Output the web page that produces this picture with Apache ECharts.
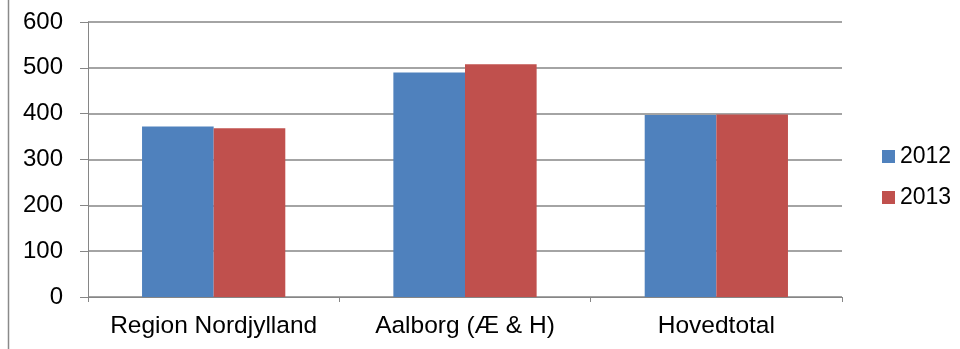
<!DOCTYPE html>
<html>
<head>
<meta charset="utf-8">
<script src="https://cdn.jsdelivr.net/npm/echarts@6/dist/echarts.min.js"></script>
<style>
  html, body { margin: 0; padding: 0; background: #fff; }
  #chart { width: 960px; height: 349px; }
</style>
</head>
<body>
<div id="chart"></div>
<script>
// Categories and yearly values
const categories = ['Region Nordjylland', 'Aalborg (Æ & H)', 'Hovedtotal'];
const values2012 = [372, 490, 397];
const values2013 = [368, 508, 398];
const yTicks = { min: 0, max: 600, interval: 100 };

const FONT = '"Liberation Sans", Arial, sans-serif';
const GRID_COLOR = '#868686';

const chart = echarts.init(document.getElementById('chart'), null, { renderer: 'canvas' });

chart.setOption({
  animation: false,
  backgroundColor: '#ffffff',
  textStyle: { fontFamily: FONT },
  grid: { left: 88, right: 118, top: 22, bottom: 52, containLabel: false },
  legend: {
    orient: 'vertical',
    left: 882,
    top: 145,
    padding: 0,
    itemWidth: 13,
    itemHeight: 13,
    itemGap: 18,
    icon: 'rect',
    textStyle: { fontSize: 23, color: '#000', fontFamily: FONT },
    data: ['2012', '2013']
  },
  xAxis: {
    type: 'category',
    data: categories,
    boundaryGap: true,
    axisLine: { show: true, lineStyle: { color: GRID_COLOR, width: 1 } },
    axisTick: { show: true, length: 5, lineStyle: { color: GRID_COLOR } },
    axisLabel: { fontSize: 24.5, color: '#000', margin: 17, fontFamily: FONT, interval: 0, hideOverlap: false },
    splitLine: { show: false }
  },
  yAxis: {
    type: 'value',
    min: yTicks.min,
    max: yTicks.max,
    interval: yTicks.interval,
    axisLine: { show: true, lineStyle: { color: GRID_COLOR, width: 1 } },
    axisTick: { show: true, inside: false, length: 8, lineStyle: { color: GRID_COLOR } },
    axisLabel: { fontSize: 24, color: '#000', margin: 25, fontFamily: FONT },
    splitLine: { show: true, lineStyle: { color: GRID_COLOR, width: 1.5 } }
  },
  series: [
    {
      name: '2012',
      type: 'bar',
      data: values2012,
      barGap: '0%',
      barCategoryGap: '43%',
      itemStyle: { color: '#4F81BD' }
    },
    {
      name: '2013',
      type: 'bar',
      data: values2013,
      barGap: '0%',
      barCategoryGap: '43%',
      itemStyle: { color: '#C0504D' }
    }
  ],
  graphic: [
    {
      type: 'line',
      shape: { x1: 8.5, y1: 0, x2: 8.5, y2: 349 },
      style: { stroke: '#8a8a8a', lineWidth: 1.5 }
    }
  ]
});
</script>
</body>
</html>
